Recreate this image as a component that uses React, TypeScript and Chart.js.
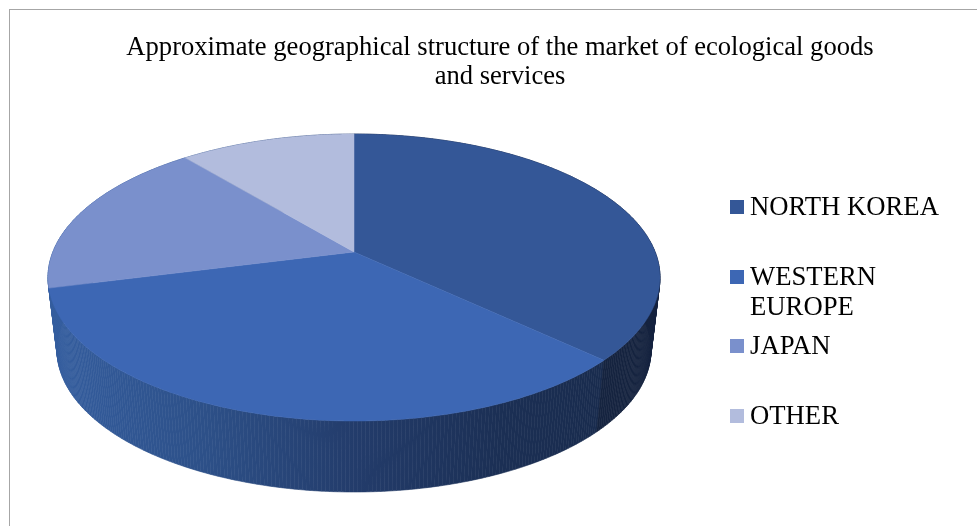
import React, { useEffect, useRef } from "react";
import { Chart, registerables } from "chart.js";

Chart.register(...registerables);

const titleLines = [
  "Approximate geographical structure of the market of ecological goods",
  "and services",
];
const categories = ["NORTH KOREA", "WESTERN EUROPE", "JAPAN", "OTHER"];
const shares = [37, 34, 18, 11];
const sliceColors = ["#345797", "#3d67b4", "#7a90cc", "#b2bcdd"];
const legendLines = [["NORTH KOREA"], ["WESTERN", "EUROPE"], ["JAPAN"], ["OTHER"]];

const FONT = '"Liberation Serif", "Times New Roman", serif';
const APEX_OFFSET = -0.178;

// Projects an angle of the flat pie onto the tilted, perspective disc.
function project(angle: number, g: { cx: number; cy: number; rx: number; ry: number }) {
  const th = angle + Math.PI / 2;
  const X = Math.sin(th);
  const Y = -Math.cos(th);
  const e = APEX_OFFSET;
  const d = 1 + e * Y;
  return {
    x: g.cx + (g.rx * X * Math.sqrt(1 - e * e)) / d,
    y: g.cy + (g.ry * (Y + e)) / d,
  };
}

const TOP = { cx: 354, cy: 277.5, rx: 306, ry: 143.5 };
const BOTTOM = { cx: 354, cy: 350, rx: 297, ry: 142 };

const pie3d = {
  id: "pie3d",
  beforeDatasetDraw(chart: any) {
    const ctx = chart.ctx;
    const arcs = chart.getDatasetMeta(0).data;
    const pts = (a0: number, a1: number, g: any) => {
      const n = Math.max(2, Math.ceil(Math.abs(a1 - a0) * 90));
      const out = [];
      for (let i = 0; i <= n; i++) out.push(project(a0 + ((a1 - a0) * i) / n, g));
      return out;
    };
    ctx.save();
    // walls
    const westWall = ctx.createLinearGradient(57, 0, 651, 0);
    westWall.addColorStop(0, "#345d9e");
    westWall.addColorStop(0.25, "#2d5088");
    westWall.addColorStop(0.5, "#233c6b");
    westWall.addColorStop(0.75, "#1b2f54");
    westWall.addColorStop(1, "#182a4b");
    const wallFills = ["#15243f", westWall, westWall, westWall];
    [3, 2, 1, 0].forEach((i) => {
      const { startAngle, endAngle } = arcs[i];
      const a = pts(startAngle, endAngle, TOP);
      const b = pts(startAngle, endAngle, BOTTOM);
      ctx.fillStyle = wallFills[i];
      ctx.strokeStyle = wallFills[i];
      ctx.lineWidth = 0.6;
      for (let k = 0; k < a.length - 1; k++) {
        ctx.beginPath();
        ctx.moveTo(a[k].x, a[k].y);
        ctx.lineTo(a[k + 1].x, a[k + 1].y);
        ctx.lineTo(b[k + 1].x, b[k + 1].y);
        ctx.lineTo(b[k].x, b[k].y);
        ctx.closePath();
        ctx.fill();
        ctx.stroke();
      }
    });
    // top face
    const c = { x: TOP.cx, y: TOP.cy + TOP.ry * APEX_OFFSET };
    arcs.forEach((arc: any, i: number) => {
      const a = pts(arc.startAngle, arc.endAngle, TOP);
      ctx.beginPath();
      ctx.moveTo(c.x, c.y);
      a.forEach((p) => ctx.lineTo(p.x, p.y));
      ctx.closePath();
      ctx.fillStyle = sliceColors[i];
      ctx.strokeStyle = sliceColors[i];
      ctx.lineWidth = 0.5;
      ctx.fill();
      ctx.stroke();
    });
    ctx.restore();
    return false;
  },
  afterDraw(chart: any) {
    const ctx = chart.ctx;
    const rowY = [207, 277, 346, 416];
    ctx.save();
    ctx.font = `26.7px ${FONT}`;
    ctx.textBaseline = "middle";
    legendLines.forEach((lines, i) => {
      ctx.fillStyle = sliceColors[i];
      ctx.fillRect(730, rowY[i] - 7, 14, 14);
      ctx.fillStyle = "#000000";
      lines.forEach((t, k) => ctx.fillText(t, 750, rowY[i] + 1 + k * 30));
    });
    ctx.restore();
  },
};

export default function App() {
  const ref = useRef<HTMLCanvasElement>(null);
  useEffect(() => {
    document.body.style.margin = "0";
    document.body.style.overflow = "hidden";
    const chart = new Chart(ref.current!, {
      type: "pie",
      data: {
        labels: categories,
        datasets: [{ data: shares, backgroundColor: sliceColors, borderWidth: 0 }],
      },
      options: {
        responsive: false,
        animation: false,
        layout: { padding: { left: 23 } },
        plugins: {
          legend: { display: false },
          tooltip: { enabled: false },
          title: {
            display: true,
            text: titleLines,
            color: "#000000",
            font: { family: FONT, size: 26.6, weight: "normal", lineHeight: 1.09 },
            padding: { top: 34, bottom: 0 },
          },
        },
      },
      plugins: [pie3d],
    } as any);
    return () => chart.destroy();
  }, []);
  return (
    <div style={{ position: "relative", width: 977, height: 526, background: "#fff", overflow: "hidden" }}>
      <canvas ref={ref} width={977} height={526} style={{ display: "block" }} />
      <div
        style={{
          position: "absolute",
          left: 9,
          top: 9,
          width: 980,
          height: 540,
          border: "1.5px solid #a6a6a6",
          boxSizing: "border-box",
          pointerEvents: "none",
        }}
      />
    </div>
  );
}
